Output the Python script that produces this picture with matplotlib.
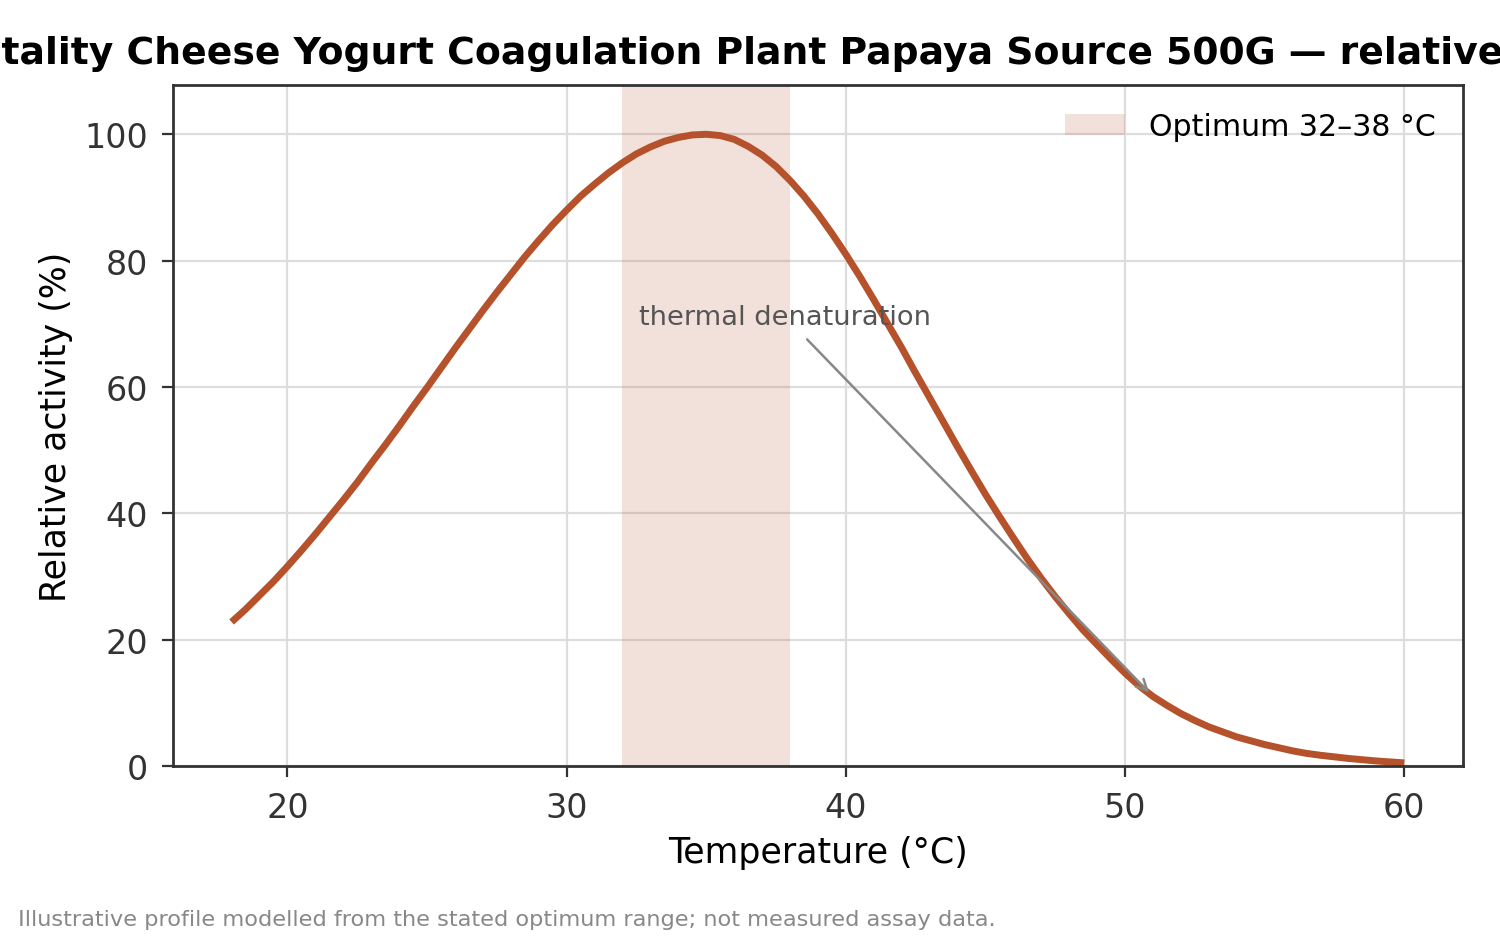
import matplotlib.pyplot as plt

TITLE = "Vitality Cheese Yogurt Coagulation Plant Papaya Source 500G \u2014 relative activity"
FOOTNOTE = "Illustrative profile modelled from the stated optimum range; not measured assay data."

# temperature every 0.5 degC, 18..60
TEMPS = [18 + 0.5 * k for k in range(85)]
ACTIVITY = [
    22.8, 24.8, 27.0, 29.2, 31.6, 34.1, 36.7, 39.4, 42.1, 44.9,
    47.9, 50.8, 53.8, 56.9, 59.9, 63.0, 66.1, 69.1, 72.1, 75.0,
    77.8, 80.6, 83.2, 85.7, 88.0, 90.2, 92.1, 93.9, 95.5, 96.9,
    98.0, 98.9, 99.5, 99.9, 100.0, 99.8, 99.2, 98.1, 96.7, 94.9,
    92.7, 90.2, 87.4, 84.3, 81.0, 77.5, 73.8, 70.0, 66.2, 62.2,
    58.3, 54.4, 50.5, 46.7, 43.0, 39.5, 36.1, 32.8, 29.7, 26.8,
    24.1, 21.5, 19.2, 16.9, 14.7, 12.7, 11.0, 9.6, 8.3, 7.2,
    6.2, 5.4, 4.6, 4.0, 3.4, 2.9, 2.4, 2.0, 1.7, 1.45,
    1.2, 1.0, 0.8, 0.65, 0.5,
]
OPT_LO, OPT_HI = 32, 38
ANNOT_AT = 51

LINE = "#B5522B"

fig, ax = plt.subplots(figsize=(7.5, 4.685), dpi=200)
fig.subplots_adjust(left=0.1153, right=0.9753, top=0.9082, bottom=0.1814)

ax.set_axisbelow(True)
ax.grid(color="#DDDDDD", lw=0.8)
ax.axvspan(OPT_LO, OPT_HI, color=LINE, alpha=0.17, lw=0,
           label=f"Optimum {OPT_LO}\u2013{OPT_HI} \u00b0C")
ax.plot(TEMPS, ACTIVITY, color=LINE, lw=2.5, solid_capstyle="butt")

i = TEMPS.index(ANNOT_AT)
ax.annotate("thermal denaturation", xy=(ANNOT_AT, ACTIVITY[i]), xytext=(32.6, 70),
            fontsize=9.8, color="#555555",
            arrowprops=dict(arrowstyle="->", color="#888888", lw=0.9))

ax.set_ylim(0, 107.8)
ax.set_xlabel("Temperature (\u00b0C)", fontsize=12.5)
ax.set_ylabel("Relative activity (%)", fontsize=12.5)
ax.set_title(TITLE, fontsize=13.6, fontweight="bold", pad=8)
ax.tick_params(labelsize=12, colors="#333333", length=4, pad=5)
for s in ax.spines.values():
    s.set_color("#333333")
    s.set_linewidth(1.0)
ax.legend(loc="upper right", frameon=False, fontsize=10.8)

fig.text(0.012, 0.012, FOOTNOTE, fontsize=8.1, color="#888888")

fig.savefig("out.png", dpi=200)
